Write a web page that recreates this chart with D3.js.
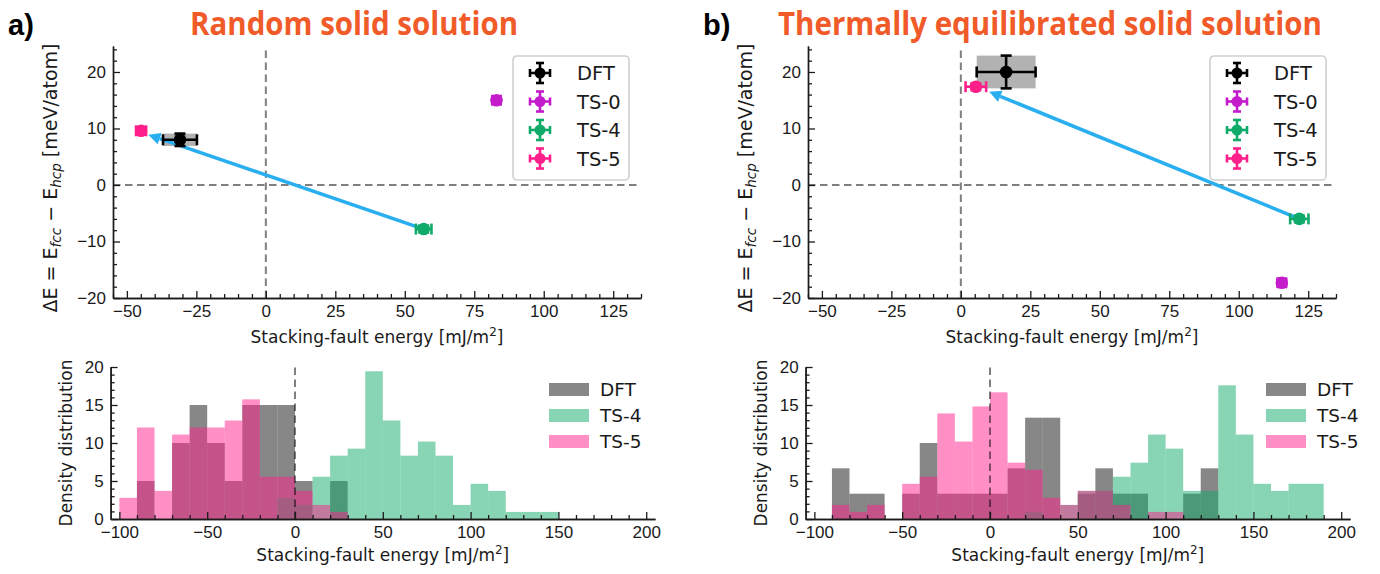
<!DOCTYPE html>
<html><head><meta charset="utf-8">
<script src="https://cdn.jsdelivr.net/npm/d3@7"></script>
<style>
body{margin:0;background:#fff}
svg{font-family:"DejaVu Sans",sans-serif}
</style></head>
<body><svg id="fig" width="1380" height="574"></svg>
<script>
const W=1380,H=574;
// ---- data ----
const series=['DFT','TS-0','TS-4','TS-5'];
const colors={'DFT':'#000000','TS-0':'#c41ccb','TS-4':'#10ab6a','TS-5':'#ff1f8a'};
const titles=['Random solid solution','Thermally equilibrated solid solution'];
const panelTags=['a)','b)'];
// scatter (x = SFE mJ/m2, y = dE meV/atom)
const randX=[-30.9,83.0,56.8,-44.9], randY=[8.0,15.0,-7.8,9.6];
const randXerr=[6.1,1.5,2.8,1.8], randYerr=[1.1,0.6,0.6,0.6];
const thermX=[16.3,115.5,121.8,5.4], thermY=[20.0,-17.3,-6.0,17.4];
const thermXerr=[10.6,1.5,3.3,3.7], thermYerr=[2.9,0.6,0.6,0.6];
const randArrow=[[56.8,-7.8],[-42.3,8.9]];
const thermArrow=[[121.8,-6.0],[10.2,16.5]];
// histograms: density per 10 mJ/m2 bin, bins start at -100
const binStarts=d3.range(-100,190,10);
const randDFT=[0,5,0,10,15,10,5,15,15,15,5,0,5,0,0,0,0,0,0,0,0,0,0,0,0,0,0,0,0];
const randTS4=[0,0,0,0,0,0,0,0,0,2.78,1.85,5.56,8.33,9.26,19.44,12.96,8.33,10.19,8.33,1.85,4.63,3.70,0.93,0.93,0.93,0,0,0,0];
const randTS5=[2.78,12.04,3.70,11.11,12.04,12.04,12.96,15.74,5.56,5.56,3.70,1.85,0.93,0,0,0,0,0,0,0,0,0,0,0,0,0,0,0,0];
const thermDFT=[0,6.67,3.33,3.33,0,3.33,10,3.33,3.33,3.33,3.33,6.67,13.33,13.33,0,3.33,6.67,3.33,3.33,0,0,3.33,6.67,0,0,0,0,0,0];
const thermTS4=[0,0,0,0,0,0,0,0,0,0,0,0,0.93,0,1.85,3.70,3.70,5.56,7.41,11.11,9.26,3.70,3.70,17.59,11.11,4.63,3.70,4.63,4.63];
const thermTS5=[0,1.85,0.93,1.85,0,4.63,5.56,13.89,10.19,14.81,16.67,7.41,6.48,2.78,1.85,3.70,3.70,1.85,0,0.93,0.93,0,0,0,0,0,0,0,0];
const histSeries=['DFT','TS-4','TS-5'];
const histAlpha={'DFT':0.47,'TS-4':0.5,'TS-5':0.5};

const panels=[
  {dx:0,X:randX,Y:randY,Xe:randXerr,Ye:randYerr,arrow:randArrow,hist:{'DFT':randDFT,'TS-4':randTS4,'TS-5':randTS5}},
  {dx:695,X:thermX,Y:thermY,Xe:thermXerr,Ye:thermYerr,arrow:thermArrow,hist:{'DFT':thermDFT,'TS-4':thermTS4,'TS-5':thermTS5}}
];

const svg=d3.select('#fig');
const TICKFS='17px', LABFS='17px', INK='#1a1a1a';

function axisStyle(g){
  g.select('.domain').attr('stroke',INK).attr('stroke-width',1.4);
  g.selectAll('.tick line').attr('stroke',INK).attr('stroke-width',1.3);
  g.selectAll('.tick text').style('font-size',TICKFS).attr('fill',INK);
}
function drawAxes(x,y,xMaj,xMin,yMaj,yMin){
  const gx=svg.append('g').attr('transform',`translate(0,${y.range()[0]})`);
  gx.call(d3.axisBottom(x).tickValues(xMin.filter(v=>!xMaj.includes(v))).tickSizeInner(-4).tickSizeOuter(0).tickFormat(''));
  gx.call(axisStyle);
  const gx2=svg.append('g').attr('transform',`translate(0,${y.range()[0]})`);
  gx2.call(d3.axisBottom(x).tickValues(xMaj).tickSizeInner(-7).tickSizeOuter(0).tickPadding(7));
  gx2.call(axisStyle);
  const gy=svg.append('g').attr('transform',`translate(${x.range()[0]},0)`);
  gy.call(d3.axisLeft(y).tickValues(yMin.filter(v=>!yMaj.includes(v))).tickSizeInner(-4).tickSizeOuter(0).tickFormat(''));
  gy.call(axisStyle);
  const gy2=svg.append('g').attr('transform',`translate(${x.range()[0]},0)`);
  gy2.call(d3.axisLeft(y).tickValues(yMaj).tickSizeInner(-7).tickSizeOuter(0).tickPadding(7));
  gy2.call(axisStyle);
}
function errbar(g,cx,cy,x0,x1,y0,y1,color,cap,r){
  const lw=2.6;
  g.append('line').attr('x1',x0).attr('x2',x1).attr('y1',cy).attr('y2',cy).attr('stroke',color).attr('stroke-width',lw);
  g.append('line').attr('x1',cx).attr('x2',cx).attr('y1',y0).attr('y2',y1).attr('stroke',color).attr('stroke-width',lw);
  [x0,x1].forEach(px=>g.append('line').attr('x1',px).attr('x2',px).attr('y1',cy-cap).attr('y2',cy+cap).attr('stroke',color).attr('stroke-width',lw));
  [y0,y1].forEach(py=>g.append('line').attr('x1',cx-cap).attr('x2',cx+cap).attr('y1',py).attr('y2',py).attr('stroke',color).attr('stroke-width',lw));
  g.append('circle').attr('cx',cx).attr('cy',cy).attr('r',r).attr('fill',color);
}
function xlabel(cx,y){
  const t=svg.append('text').attr('x',cx).attr('y',y).attr('text-anchor','middle').style('font-size',LABFS).attr('fill',INK);
  t.append('tspan').text('Stacking-fault energy [mJ/m');
  t.append('tspan').attr('dy',-7).style('font-size','12px').text('2');
  t.append('tspan').attr('dy',7).text(']');
}

panels.forEach((p,pi)=>{
  const dx=p.dx;
  // titles
  svg.append('text').attr('x',8+dx).attr('y',35).style('font-size','29px').style('font-weight','bold')
    .style('font-family','"Liberation Sans",Arial,sans-serif').attr('fill','#000').text(panelTags[pi]);
  const tw=pi===0?328:544, tc=pi===0?354:1050;
  svg.append('text').attr('x',tc).attr('y',35).attr('text-anchor','middle')
    .style('font-family','"Open Sans",sans-serif').style('font-weight','700').style('font-size','32px')
    .attr('fill','#f15a29').attr('textLength',tw).attr('lengthAdjust','spacingAndGlyphs').text(titles[pi]);

  // ---- top scatter ----
  const x=d3.scaleLinear([-55,135],[113+dx,641+dx]);
  const y=d3.scaleLinear([-20,24.6],[298,46]);
  const g=svg.append('g');
  g.append('line').attr('x1',x.range()[0]).attr('x2',x.range()[1]).attr('y1',y(0)).attr('y2',y(0))
    .attr('stroke','#000').attr('stroke-opacity',0.5).attr('stroke-width',2).attr('stroke-dasharray','7.5,4.5');
  g.append('line').attr('x1',x(0)).attr('x2',x(0)).attr('y1',y.range()[0]).attr('y2',y.range()[1])
    .attr('stroke','#000').attr('stroke-opacity',0.5).attr('stroke-width',2).attr('stroke-dasharray','7.5,4.5');
  // DFT uncertainty box
  g.append('rect').attr('x',x(p.X[0]-p.Xe[0])).attr('y',y(p.Y[0]+p.Ye[0]))
    .attr('width',x(p.X[0]+p.Xe[0])-x(p.X[0]-p.Xe[0])).attr('height',y(p.Y[0]-p.Ye[0])-y(p.Y[0]+p.Ye[0]))
    .attr('fill','#000').attr('fill-opacity',0.3);
  // arrow
  const S=[x(p.arrow[0][0]),y(p.arrow[0][1])], E=[x(p.arrow[1][0]),y(p.arrow[1][1])];
  const L=Math.hypot(E[0]-S[0],E[1]-S[1]), u=[(E[0]-S[0])/L,(E[1]-S[1])/L], n=[-u[1],u[0]];
  const B=[E[0]-u[0]*12,E[1]-u[1]*12];
  g.append('line').attr('x1',S[0]).attr('y1',S[1]).attr('x2',B[0]).attr('y2',B[1]).attr('stroke','#29aef0').attr('stroke-width',3.5);
  g.append('path').attr('d',`M${E}L${B[0]+n[0]*6},${B[1]+n[1]*6}L${B[0]-n[0]*6},${B[1]-n[1]*6}Z`).attr('fill','#29aef0');
  series.forEach((s,i)=>{
    errbar(g,x(p.X[i]),y(p.Y[i]),x(p.X[i]-p.Xe[i]),x(p.X[i]+p.Xe[i]),y(p.Y[i]-p.Ye[i]),y(p.Y[i]+p.Ye[i]),colors[s],5.5,6.3);
  });
  drawAxes(x,y,d3.range(-50,126,25),d3.range(-55,136,5),[-20,-10,0,10,20],d3.range(-20,25,2));
  xlabel((x.range()[0]+x.range()[1])/2,343);
  const yl=svg.append('text').attr('transform',`translate(${57+dx},${178}) rotate(-90)`).attr('text-anchor','middle')
    .style('font-size','19px').attr('fill',INK);
  yl.append('tspan').text('ΔE = E');
  yl.append('tspan').attr('dy',4).style('font-size','13.5px').style('font-style','italic').text('fcc');
  yl.append('tspan').attr('dy',-4).text(' − E');
  yl.append('tspan').attr('dy',4).style('font-size','13.5px').style('font-style','italic').text('hcp');
  yl.append('tspan').attr('dy',-4).text(' [meV/atom]');
  // legend
  const lg=svg.append('g').attr('transform',`translate(${513+dx+(pi?2:0)},56)`);
  lg.append('rect').attr('width',116).attr('height',124).attr('rx',4).attr('fill','#fff').attr('fill-opacity',0.8)
    .attr('stroke','#d0d0d0').attr('stroke-width',1.6);
  series.forEach((s,i)=>{
    const cy=17+i*28.5;
    errbar(lg,27,cy,17,37,cy-10,cy+10,colors[s],4,5.5);
    lg.append('text').attr('x',64).attr('y',cy).attr('dy','0.36em').style('font-size','19.5px').attr('fill',INK).text(s);
  });

  // ---- bottom histogram ----
  const hx=d3.scaleLinear([-105,205],[110.6+dx,655+dx]);
  const hy=d3.scaleLinear([0,20],[519,367]);
  const hg=svg.append('g');
  histSeries.forEach(s=>{
    hg.append('g').selectAll('rect').data(binStarts.map((b,i)=>({b,v:p.hist[s][i]})).filter(d=>d.v>0)).join('rect')
      .attr('x',d=>hx(d.b)).attr('width',d=>hx(d.b+10)-hx(d.b))
      .attr('y',d=>hy(d.v)).attr('height',d=>hy(0)-hy(d.v))
      .attr('fill',colors[s]).attr('fill-opacity',histAlpha[s]);
  });
  hg.append('line').attr('x1',hx(0)).attr('x2',hx(0)).attr('y1',hy(0)).attr('y2',hy(20))
    .attr('stroke','#000').attr('stroke-opacity',0.5).attr('stroke-width',2).attr('stroke-dasharray','7.5,4.5');
  drawAxes(hx,hy,d3.range(-100,201,50),d3.range(-100,201,10),[0,5,10,15,20],d3.range(0,21,1));
  xlabel((hx.range()[0]+hx.range()[1])/2,561);
  svg.append('text').attr('transform',`translate(${72+dx},${443}) rotate(-90)`).attr('text-anchor','middle')
    .style('font-size',LABFS).attr('fill',INK).text('Density distribution');
  const hl=svg.append('g').attr('transform',`translate(${549+dx+(pi?22:0)},383)`);
  histSeries.forEach((s,i)=>{
    hl.append('rect').attr('x',0).attr('y',i*26).attr('width',40).attr('height',13)
      .attr('fill',colors[s]).attr('fill-opacity',histAlpha[s]);
    hl.append('text').attr('x',51).attr('y',i*26+6.5).attr('dy','0.36em').style('font-size','18.5px').attr('fill',INK).text(s);
  });
});
</script>
</body></html>
